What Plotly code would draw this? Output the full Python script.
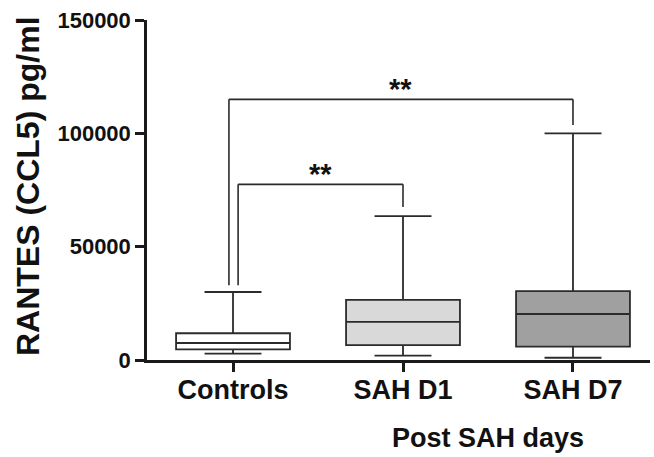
import plotly.graph_objects as go

categories = ["Controls", "SAH D1", "SAH D7"]
lower_fence = [2800, 1900, 1000]
q1 = [4700, 6600, 5900]
median = [7500, 16800, 20300]
q3 = [11800, 26500, 30400]
upper_fence = [30000, 63500, 100000]
box_colors = ["#ffffff", "#d9d9d9", "#a0a0a0"]

y_ticks = [0, 50000, 100000, 150000]
y_title = "RANTES (CCL5) pg/ml"
x_title = "Post SAH days"

# significance brackets: (from index, to index, bar height, left leg bottom, right leg bottom, label)
brackets = [
    (0, 1, 77500, 33000, 67500, "**"),
    (0, 2, 115000, 33000, 103700, "**"),
]
bracket_left_offset = [0.03, -0.024]

FONT = "Arial, Liberation Sans, sans-serif"
LINE = "#2b2b2b"

fig = go.Figure()
for i, c in enumerate(categories):
    fig.add_trace(go.Box(
        x=[c], q1=[q1[i]], median=[median[i]], q3=[q3[i]],
        lowerfence=[lower_fence[i]], upperfence=[upper_fence[i]],
        fillcolor=box_colors[i], line=dict(color=LINE, width=1.8),
        width=0.67, whiskerwidth=0.5, boxpoints=False, showlegend=False,
        hoverinfo="skip",
    ))

shapes = []
annotations = []
for (a, b, h, lb, rb, lab), off in zip(brackets, bracket_left_offset):
    xl = a + off
    xr = b
    for x0, y0, x1, y1 in [(xl, lb, xl, h), (xl, h, xr, h), (xr, h, xr, rb)]:
        shapes.append(dict(type="line", xref="x", yref="y", x0=x0, y0=y0, x1=x1, y1=y1,
                           line=dict(color=LINE, width=1.6)))
    annotations.append(dict(x=(xl + xr) / 2, y=h, xref="x", yref="y", text=lab,
                            showarrow=False, yanchor="bottom", yshift=-8,
                            font=dict(family=FONT, size=29, color="#111", weight="bold")))

annotations.append(dict(x=28, y=186, xref="paper", yref="paper", text=y_title,
                        showarrow=False, textangle=-90, xanchor="center", yanchor="middle",
                        font=dict(family=FONT, size=32, color="#111", weight="bold")))
annotations.append(dict(x=488, y=438, xref="paper", yref="paper", text=x_title,
                        showarrow=False, xanchor="center", yanchor="middle",
                        font=dict(family=FONT, size=27, color="#111", weight="bold")))

# convert pixel-based label positions to paper coordinates
W, H = 654, 457
ml, mr, mt, mb = 147, 4, 20, 97
pw, ph = W - ml - mr, H - mt - mb
for an in annotations:
    if an["xref"] == "paper":
        an["x"] = (an["x"] - ml) / pw
        an["y"] = 1 - (an["y"] - mt) / ph

fig.update_layout(
    width=W, height=H,
    margin=dict(l=ml, r=mr, t=mt, b=mb, pad=0),
    paper_bgcolor="white", plot_bgcolor="white",
    shapes=shapes, annotations=annotations,
    xaxis=dict(type="category", range=[-0.506, 2.453], showline=True, linecolor="#1a1a1a",
               linewidth=2.5, ticks="outside", ticklen=9, tickwidth=2.5, tickcolor="#1a1a1a",
               showgrid=False, zeroline=False, ticklabelstandoff=-5,
               tickfont=dict(family=FONT, size=27, color="#111", weight="bold")),
    yaxis=dict(range=[0, 150000], tickvals=y_ticks, ticktext=[str(v) for v in y_ticks],
               showline=True, linecolor="#1a1a1a", linewidth=2.5, ticks="outside",
               ticklen=9, tickwidth=2.5, tickcolor="#1a1a1a", showgrid=False, zeroline=False,
               tickfont=dict(family=FONT, size=22, color="#111", weight="bold")),
)

fig.write_html("out.html")
